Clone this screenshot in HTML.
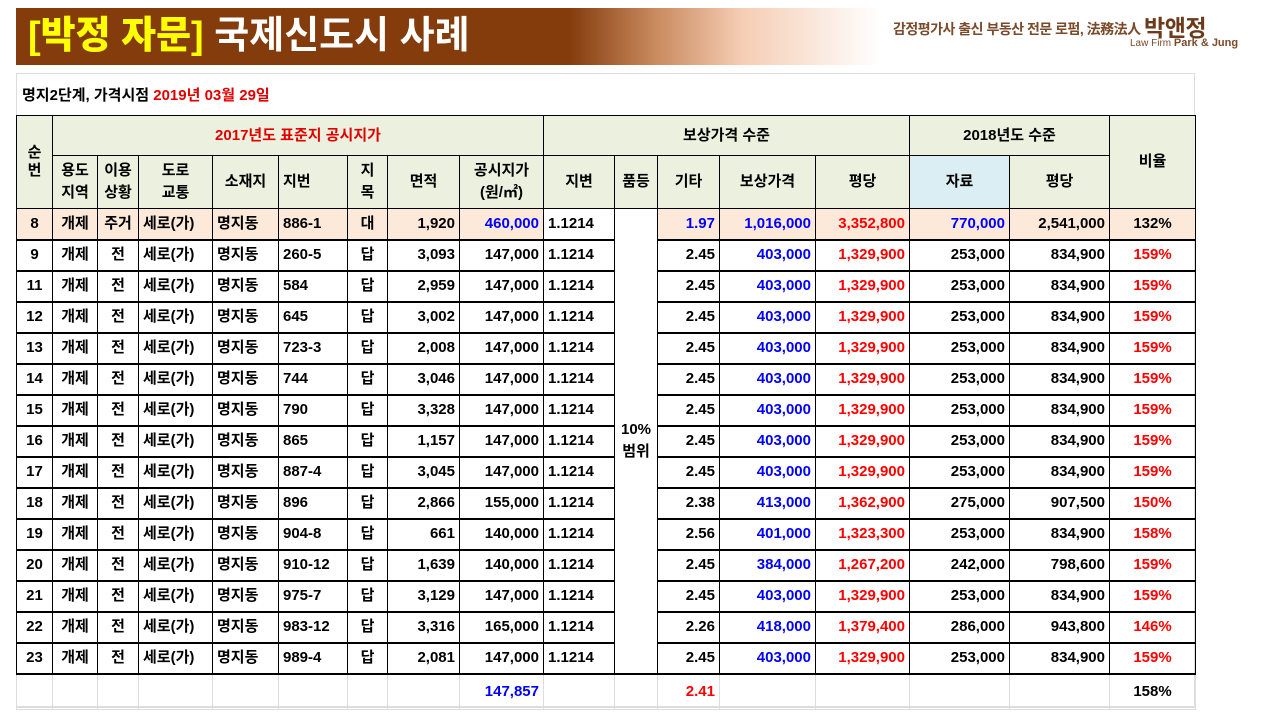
<!DOCTYPE html>
<html><head><meta charset="utf-8">
<style>
*{margin:0;padding:0;box-sizing:border-box}
body{width:1280px;height:720px;background:#fff;font-family:"Liberation Sans","Noto Sans CJK KR",sans-serif;position:relative;overflow:hidden}
.banner{position:absolute;left:16px;top:8px;width:864px;height:57px;background:linear-gradient(90deg,#843c0c 0%,#843c0c 64%,#c98a5e 74%,#f5cdb4 84%,#fff 100%)}
.banner .t{position:absolute;left:12px;top:5px;font-size:38px;font-weight:bold;color:#fff;white-space:nowrap;line-height:46px}
.banner .t b{color:#ffff00}
.logo1{position:absolute;left:893px;top:9px;font-size:14px;color:#7a4a2a;font-weight:bold;white-space:nowrap;letter-spacing:-0.5px}
.logo1 span{font-size:23px;color:#6b3a1a;vertical-align:-2px}
.logo2{position:absolute;left:1130px;top:37px;font-size:10px;color:#7a4a2a;white-space:nowrap}
.logo2 b{font-size:11px}
.box{position:absolute;left:16px;top:73px;width:1179px;height:635px;border:1px solid #ddd;border-bottom:2px solid #ddd}
.sub{position:absolute;left:22px;top:84px;font-size:15px;color:#000;font-weight:bold}
.sub span{color:#e00000}
table{position:absolute;left:16px;top:115px;border-collapse:collapse;table-layout:fixed;font-size:15px;font-weight:bold}
td{border:1px solid #000;white-space:nowrap;overflow:hidden;padding:0 4px;line-height:18px}
.h td{background:#ebf1de;text-align:center}
.r td{height:31px;border-width:1px 1px 2px 1px}
.r8 td{background:#fde9d9}
.num{text-align:right}
.c{text-align:center}
.b{color:#0000ff}.rd{color:#ff0000}
.sum td{border:1px solid #ddd;height:36px}
</style></head><body>
<div class="banner"><div class="t"><b>[박정 자문]</b> 국제신도시 사례</div></div>
<div class="logo1">감정평가사 출신 부동산 전문 로펌, 法務法人 <span>박앤정</span></div>
<div class="logo2">Law Firm <b>Park &amp; Jung</b></div>
<div class="box"></div>
<div class="sub">명지2단계, 가격시점 <span>2019년 03월 29일</span></div>
<table>
<colgroup><col style="width:36px"><col style="width:45px"><col style="width:41px"><col style="width:74px"><col style="width:66px"><col style="width:69px"><col style="width:40px"><col style="width:72px"><col style="width:84px"><col style="width:71px"><col style="width:43px"><col style="width:62px"><col style="width:96px"><col style="width:94px"><col style="width:100px"><col style="width:100px"><col style="width:86px"></colgroup>
<tr class="h" style="height:40px"><td rowspan="2">순<br>번</td><td colspan="8" style="color:#e00000">2017년도 표준지 공시지가</td><td colspan="5">보상가격 수준</td><td colspan="2">2018년도 수준</td><td rowspan="2">비율</td></tr>
<tr class="h" style="height:53px"><td style="line-height:22px">용도<br>지역</td><td style="line-height:22px">이용<br>상황</td><td style="line-height:22px">도로<br>교통</td><td>소재지</td><td style="text-align:left">지번</td><td style="line-height:22px">지<br>목</td><td>면적</td><td style="line-height:22px">공시지가<br>(원/㎡)</td><td>지변</td><td>품등</td><td>기타</td><td>보상가격</td><td>평당</td><td style="background:#daeef3">자료</td><td>평당</td></tr>
<tr class="r r8"><td class="c">8</td><td class="c">개제</td><td class="c">주거</td><td>세로(가)</td><td>명지동</td><td>886-1</td><td class="c">대</td><td class="num">1,920</td><td class="num b">460,000</td><td style="background:#fff">1.1214</td><td rowspan="15" class="c" style="background:#fff;line-height:22px">10%<br>범위</td><td class="num b">1.97</td><td class="num b">1,016,000</td><td class="num rd">3,352,800</td><td class="num b">770,000</td><td class="num">2,541,000</td><td class="c">132%</td></tr>
<tr class="r"><td class="c">9</td><td class="c">개제</td><td class="c">전</td><td>세로(가)</td><td>명지동</td><td>260-5</td><td class="c">답</td><td class="num">3,093</td><td class="num">147,000</td><td>1.1214</td><td class="num">2.45</td><td class="num b">403,000</td><td class="num rd">1,329,900</td><td class="num">253,000</td><td class="num">834,900</td><td class="c rd">159%</td></tr>
<tr class="r"><td class="c">11</td><td class="c">개제</td><td class="c">전</td><td>세로(가)</td><td>명지동</td><td>584</td><td class="c">답</td><td class="num">2,959</td><td class="num">147,000</td><td>1.1214</td><td class="num">2.45</td><td class="num b">403,000</td><td class="num rd">1,329,900</td><td class="num">253,000</td><td class="num">834,900</td><td class="c rd">159%</td></tr>
<tr class="r"><td class="c">12</td><td class="c">개제</td><td class="c">전</td><td>세로(가)</td><td>명지동</td><td>645</td><td class="c">답</td><td class="num">3,002</td><td class="num">147,000</td><td>1.1214</td><td class="num">2.45</td><td class="num b">403,000</td><td class="num rd">1,329,900</td><td class="num">253,000</td><td class="num">834,900</td><td class="c rd">159%</td></tr>
<tr class="r"><td class="c">13</td><td class="c">개제</td><td class="c">전</td><td>세로(가)</td><td>명지동</td><td>723-3</td><td class="c">답</td><td class="num">2,008</td><td class="num">147,000</td><td>1.1214</td><td class="num">2.45</td><td class="num b">403,000</td><td class="num rd">1,329,900</td><td class="num">253,000</td><td class="num">834,900</td><td class="c rd">159%</td></tr>
<tr class="r"><td class="c">14</td><td class="c">개제</td><td class="c">전</td><td>세로(가)</td><td>명지동</td><td>744</td><td class="c">답</td><td class="num">3,046</td><td class="num">147,000</td><td>1.1214</td><td class="num">2.45</td><td class="num b">403,000</td><td class="num rd">1,329,900</td><td class="num">253,000</td><td class="num">834,900</td><td class="c rd">159%</td></tr>
<tr class="r"><td class="c">15</td><td class="c">개제</td><td class="c">전</td><td>세로(가)</td><td>명지동</td><td>790</td><td class="c">답</td><td class="num">3,328</td><td class="num">147,000</td><td>1.1214</td><td class="num">2.45</td><td class="num b">403,000</td><td class="num rd">1,329,900</td><td class="num">253,000</td><td class="num">834,900</td><td class="c rd">159%</td></tr>
<tr class="r"><td class="c">16</td><td class="c">개제</td><td class="c">전</td><td>세로(가)</td><td>명지동</td><td>865</td><td class="c">답</td><td class="num">1,157</td><td class="num">147,000</td><td>1.1214</td><td class="num">2.45</td><td class="num b">403,000</td><td class="num rd">1,329,900</td><td class="num">253,000</td><td class="num">834,900</td><td class="c rd">159%</td></tr>
<tr class="r"><td class="c">17</td><td class="c">개제</td><td class="c">전</td><td>세로(가)</td><td>명지동</td><td>887-4</td><td class="c">답</td><td class="num">3,045</td><td class="num">147,000</td><td>1.1214</td><td class="num">2.45</td><td class="num b">403,000</td><td class="num rd">1,329,900</td><td class="num">253,000</td><td class="num">834,900</td><td class="c rd">159%</td></tr>
<tr class="r"><td class="c">18</td><td class="c">개제</td><td class="c">전</td><td>세로(가)</td><td>명지동</td><td>896</td><td class="c">답</td><td class="num">2,866</td><td class="num">155,000</td><td>1.1214</td><td class="num">2.38</td><td class="num b">413,000</td><td class="num rd">1,362,900</td><td class="num">275,000</td><td class="num">907,500</td><td class="c rd">150%</td></tr>
<tr class="r"><td class="c">19</td><td class="c">개제</td><td class="c">전</td><td>세로(가)</td><td>명지동</td><td>904-8</td><td class="c">답</td><td class="num">661</td><td class="num">140,000</td><td>1.1214</td><td class="num">2.56</td><td class="num b">401,000</td><td class="num rd">1,323,300</td><td class="num">253,000</td><td class="num">834,900</td><td class="c rd">158%</td></tr>
<tr class="r"><td class="c">20</td><td class="c">개제</td><td class="c">전</td><td>세로(가)</td><td>명지동</td><td>910-12</td><td class="c">답</td><td class="num">1,639</td><td class="num">140,000</td><td>1.1214</td><td class="num">2.45</td><td class="num b">384,000</td><td class="num rd">1,267,200</td><td class="num">242,000</td><td class="num">798,600</td><td class="c rd">159%</td></tr>
<tr class="r"><td class="c">21</td><td class="c">개제</td><td class="c">전</td><td>세로(가)</td><td>명지동</td><td>975-7</td><td class="c">답</td><td class="num">3,129</td><td class="num">147,000</td><td>1.1214</td><td class="num">2.45</td><td class="num b">403,000</td><td class="num rd">1,329,900</td><td class="num">253,000</td><td class="num">834,900</td><td class="c rd">159%</td></tr>
<tr class="r"><td class="c">22</td><td class="c">개제</td><td class="c">전</td><td>세로(가)</td><td>명지동</td><td>983-12</td><td class="c">답</td><td class="num">3,316</td><td class="num">165,000</td><td>1.1214</td><td class="num">2.26</td><td class="num b">418,000</td><td class="num rd">1,379,400</td><td class="num">286,000</td><td class="num">943,800</td><td class="c rd">146%</td></tr>
<tr class="r"><td class="c">23</td><td class="c">개제</td><td class="c">전</td><td>세로(가)</td><td>명지동</td><td>989-4</td><td class="c">답</td><td class="num">2,081</td><td class="num">147,000</td><td>1.1214</td><td class="num">2.45</td><td class="num b">403,000</td><td class="num rd">1,329,900</td><td class="num">253,000</td><td class="num">834,900</td><td class="c rd">159%</td></tr>
<tr class="sum"><td></td><td></td><td></td><td></td><td></td><td></td><td></td><td></td><td class="num b">147,857</td><td></td><td></td><td class="num rd">2.41</td><td></td><td></td><td></td><td></td><td class="c">158%</td></tr>
</table>
</body></html>
